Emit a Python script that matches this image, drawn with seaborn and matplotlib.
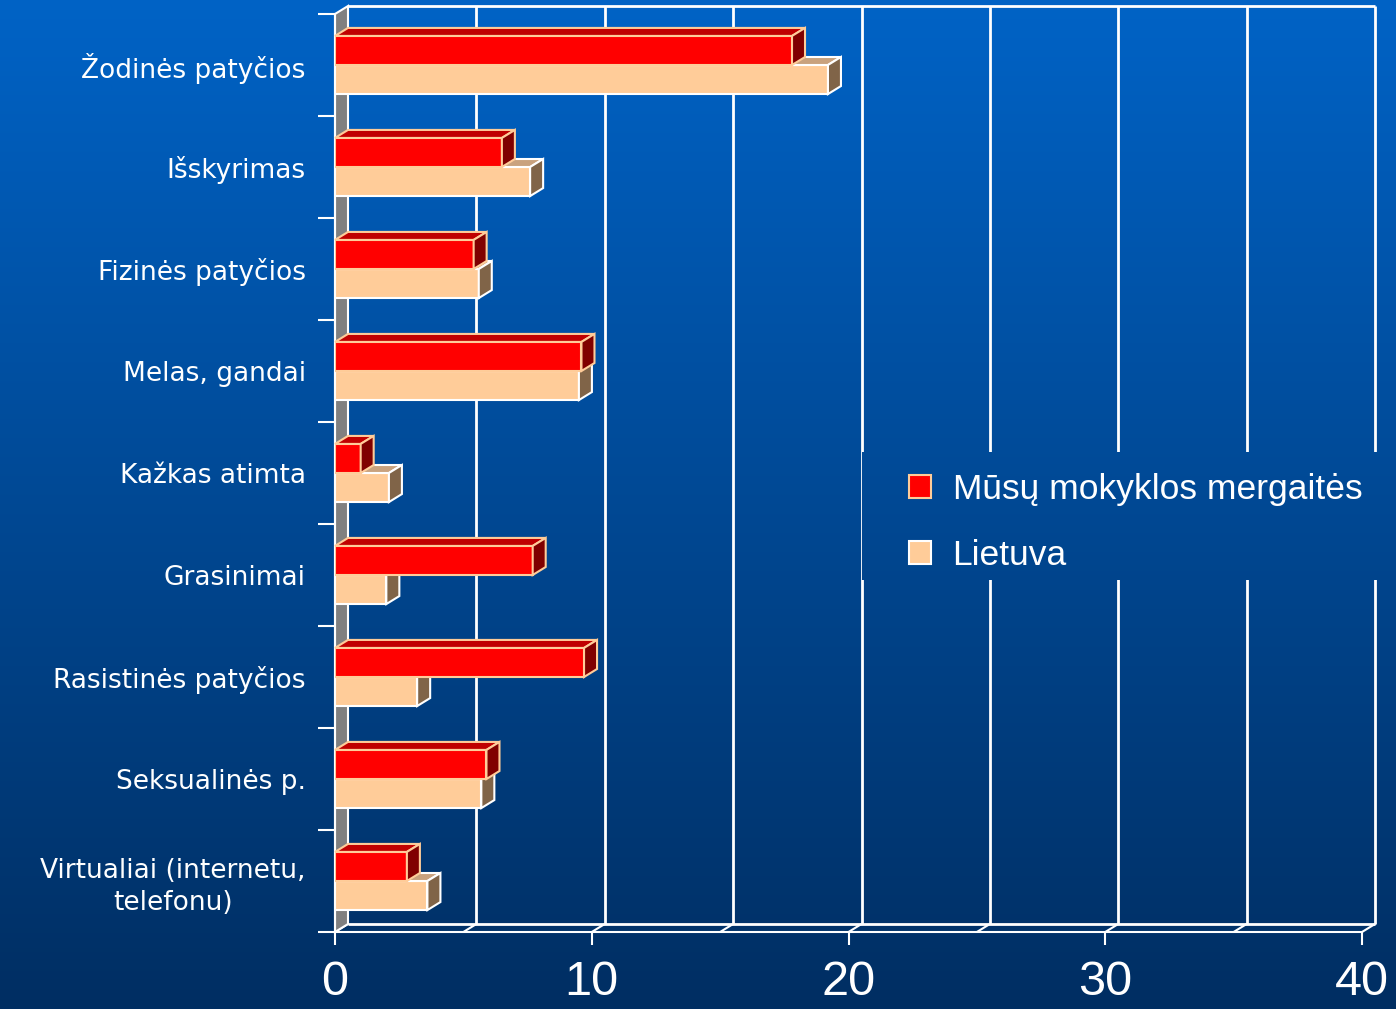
import numpy as np
import pandas as pd
import matplotlib
matplotlib.use("Agg")
import matplotlib.pyplot as plt
import matplotlib.transforms as mtransforms
from matplotlib.patches import Polygon, Patch
import seaborn as sns

# ---------------- data ----------------
categories = [
    "Žodinės patyčios",
    "Išskyrimas",
    "Fizinės patyčios",
    "Melas, gandai",
    "Kažkas atimta",
    "Grasinimai",
    "Rasistinės patyčios",
    "Seksualinės p.",
    "Virtualiai (internetu,\ntelefonu)",
]
school_girls = [17.8, 6.5, 5.4, 9.6, 1.0, 7.7, 9.7, 5.9, 2.8]
lithuania = [19.2, 7.6, 5.6, 9.5, 2.1, 2.0, 3.2, 5.7, 3.6]
series_names = ["Mūsų mokyklos mergaitės", "Lietuva"]
x_ticks = [0, 10, 20, 30, 40]
grid_steps = [5, 10, 15, 20, 25, 30, 35, 40]

# ---------------- style ----------------
RED, PEACH = "#FF0000", "#FFCC99"
RED_TOP, RED_SIDE = "#C00000", "#800000"
PEACH_TOP, PEACH_SIDE = "#C9A27E", "#806448"
WALL = "#808080"
TOP_BG = np.array([0, 99, 198]) / 255
BOT_BG = np.array([0, 46, 98]) / 255

W, H, DPI = 1396, 1009, 100
DX, DY = 13, 8  # 3-D depth offset in pixels

sns.set_theme(style="white")
plt.rcParams["font.family"] = ["Liberation Sans", "DejaVu Sans"]

fig = plt.figure(figsize=(W / DPI, H / DPI), dpi=DPI)
fig.patch.set_facecolor(BOT_BG)


def bg_rows(y0, y1):
    t = (np.arange(y0, y1) + 0.5) / H
    return (TOP_BG + (BOT_BG - TOP_BG) * t[:, None])[:, None, :]


bg = fig.add_axes([0, 0, 1, 1], zorder=0)
bg.imshow(bg_rows(0, H), aspect="auto", extent=[0, 1, 0, 1], interpolation="bilinear")
bg.set_axis_off()

ax = fig.add_axes([335 / W, 1 - 932 / H, (1362 - 335) / W, (932 - 14) / H], zorder=1)
ax.patch.set_alpha(0)

n = len(categories)
df = pd.DataFrame({
    "category": categories * 2,
    "value": school_girls + lithuania,
    "series": [series_names[0]] * n + [series_names[1]] * n,
})
sns.barplot(data=df, x="value", y="category", hue="series", orient="h",
            palette=[RED, PEACH], saturation=1, width=0.57, errorbar=None,
            legend=False, ax=ax)

ax.set_xlim(0, 40)
ax.set_ylim(n - 0.5, -0.5)

ident = mtransforms.IdentityTransform()
back = ax.transData + mtransforms.ScaledTranslation(DX / DPI, DY / DPI, fig.dpi_scale_trans)

# back wall grid
ax.vlines(grid_steps, -0.5, n - 0.5, transform=back, colors="white", lw=2.0,
          zorder=1.2, clip_on=False)
ax.hlines([-0.5, n - 0.5], 0, 40, transform=back, colors="white", lw=2.0,
          zorder=1.2, clip_on=False)

# left wall
(x0d, ybd), (_, ytd) = ax.transData.transform([(0, n - 0.5), (0, -0.5)])
wall = Polygon([(x0d, ybd), (x0d, ytd), (x0d + DX, ytd + DY), (x0d + DX, ybd + DY)],
               closed=True, transform=ident, facecolor=WALL, edgecolor="white",
               lw=1.5, zorder=1.5, clip_on=False)
ax.add_patch(wall)

# floor diagonals
for xv in [0] + grid_steps:
    (fx, fy), = ax.transData.transform([(xv, n - 0.5)])
    ax.plot([fx, fx + DX], [fy, fy + DY], transform=ident, color="white", lw=1.5,
            zorder=1.3, clip_on=False)

# 3-D bars
red_rgb = np.array(matplotlib.colors.to_rgb(RED))
bars = [p for p in ax.patches if p is not wall]
for p in bars:
    is_red = np.allclose(np.array(p.get_facecolor()[:3]), red_rgb, atol=0.02)
    edge = PEACH if is_red else "white"
    top_c = RED_TOP if is_red else PEACH_TOP
    side_c = RED_SIDE if is_red else PEACH_SIDE
    z = 4 if is_red else 3
    x0, y0, w, h = p.get_x(), p.get_y(), p.get_width(), p.get_height()
    (xl, ya), (xr, yb) = ax.transData.transform([(x0, y0), (x0 + w, y0 + h)])
    yt, ybm = max(ya, yb), min(ya, yb)
    top = [(xl, yt), (xr, yt), (xr + DX, yt + DY), (xl + DX, yt + DY)]
    side = [(xr, ybm), (xr, yt), (xr + DX, yt + DY), (xr + DX, ybm + DY)]
    for pts, fc in ((top, top_c), (side, side_c)):
        ax.add_patch(Polygon(pts, closed=True, transform=ident, facecolor=fc,
                             edgecolor=edge, lw=1.5, zorder=z, clip_on=False,
                             joinstyle="miter"))
    p.set_edgecolor(edge)
    p.set_linewidth(1.5)
    p.set_zorder(z)

ax.set_xlim(0, 40)
ax.set_ylim(n - 0.5, -0.5)

# spines
for s in ["top", "right"]:
    ax.spines[s].set_visible(False)
for s in ["left", "bottom"]:
    ax.spines[s].set_color("white")
    ax.spines[s].set_linewidth(1.5)
    ax.spines[s].set_zorder(2)

# ticks
ax.set_xticks(x_ticks)
ax.set_xticklabels([str(v) for v in x_ticks])
ax.tick_params(axis="x", which="major", direction="out", length=9.4, width=1.5,
               color="white", labelcolor="white", labelsize=35, pad=11, bottom=True)
ax.set_yticks(range(n))
ax.set_yticklabels(categories)
ax.set_yticks(np.arange(-0.5, n), minor=True)
ax.tick_params(axis="y", which="major", length=0, pad=21, labelcolor="white",
               labelsize=19)
ax.tick_params(axis="y", which="minor", direction="out", length=12.2, width=1.5,
               color="white", left=True)
for lab in ax.get_yticklabels():
    lab.set_family("DejaVu Sans")
    lab.set_multialignment("center")
    lab.set_linespacing(1.3)
ax.set_xlabel("")
ax.set_ylabel("")
ax.grid(False)

# legend background (hides grid lines)
lx0, ly0, ly1 = 862, 452, 580
lbg = fig.add_axes([lx0 / W, 1 - ly1 / H, (W - lx0) / W, (ly1 - ly0) / H], zorder=2)
lbg.imshow(bg_rows(ly0, ly1), aspect="auto", extent=[0, 1, 0, 1], interpolation="bilinear")
lbg.set_axis_off()

handles = [Patch(facecolor=RED, edgecolor=PEACH, lw=1.5),
           Patch(facecolor=PEACH, edgecolor="white", lw=1.5)]
leg = fig.legend(handles=handles, labels=series_names, loc="upper left",
                 bbox_to_anchor=(909 / W, 1 - 473 / H), frameon=False,
                 borderpad=0, borderaxespad=0, handlelength=0.63, handleheight=0.63,
                 handletextpad=0.6, labelspacing=0.92,
                 prop={"family": "Liberation Sans", "size": 25.5})
for t in leg.get_texts():
    t.set_color("white")

fig.savefig("out.png", dpi=DPI, facecolor=fig.get_facecolor())
